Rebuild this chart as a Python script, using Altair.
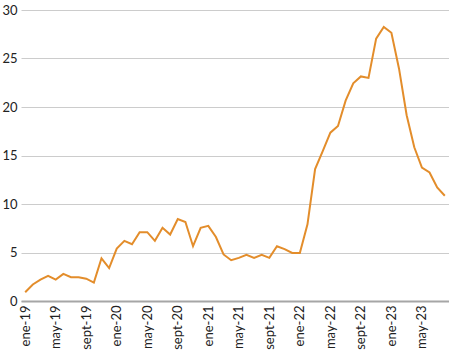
import altair as alt
import pandas as pd

months = ["ene", "feb", "mar", "abr", "may", "jun", "jul", "ago", "sept", "oct", "nov", "dic"]
years = ["19", "20", "21", "22", "23"]
values = [
    0.9, 1.7, 2.2, 2.6, 2.2, 2.8, 2.45, 2.45, 2.3, 1.9, 4.4, 3.4,
    5.4, 6.2, 5.85, 7.1, 7.1, 6.2, 7.55, 6.85, 8.45, 8.15, 5.65, 7.55,
    7.75, 6.6, 4.8, 4.2, 4.45, 4.75, 4.45, 4.75, 4.45, 5.65, 5.35, 4.95,
    4.95, 7.9, 13.6, 15.45, 17.35, 18.05, 20.65, 22.45, 23.15, 23.0, 27.05, 28.25,
    27.65, 23.95, 19.15, 15.85, 13.75, 13.25, 11.7, 10.85,
]
labels = [f"{m}-{y}" for y in years for m in months][: len(values)]
shown = labels[::4]
y_ticks = [0, 5, 10, 15, 20, 25, 30]

df = pd.DataFrame({"mes": labels, "valor": values})

chart = (
    alt.Chart(df)
    .mark_line(color="#E38D2B", strokeWidth=2)
    .encode(
        x=alt.X(
            "mes:O",
            sort=labels,
            scale=alt.Scale(type="point", padding=0.55),
            axis=alt.Axis(
                values=shown,
                labelAngle=-90,
                labelAlign="right",
                labelBaseline="middle",
                ticks=False,
                domainColor="#a6a6a6",
                domainWidth=2,
                labelFont="Lato",
                labelFontSize=13,
                labelColor="#222222",
                labelPadding=4,
                title=None,
                grid=False,
            ),
        ),
        y=alt.Y(
            "valor:Q",
            scale=alt.Scale(domain=[0, 30], nice=False),
            axis=alt.Axis(
                values=y_ticks,
                domain=False,
                ticks=False,
                gridColor="#cccccc",
                gridWidth=1,
                labelFont="Lato",
                labelFontSize=13,
                labelColor="#222222",
                labelPadding=4,
                title=None,
            ),
        ),
    )
    .properties(
        width=428,
        height=291,
        autosize=alt.AutoSizeParams(type="none"),
        padding={"left": 21, "top": 10, "right": 0, "bottom": 53},
    )
    .configure_view(stroke=None)
)

chart.save("out.html", embed_options={"renderer": "svg", "actions": False})
